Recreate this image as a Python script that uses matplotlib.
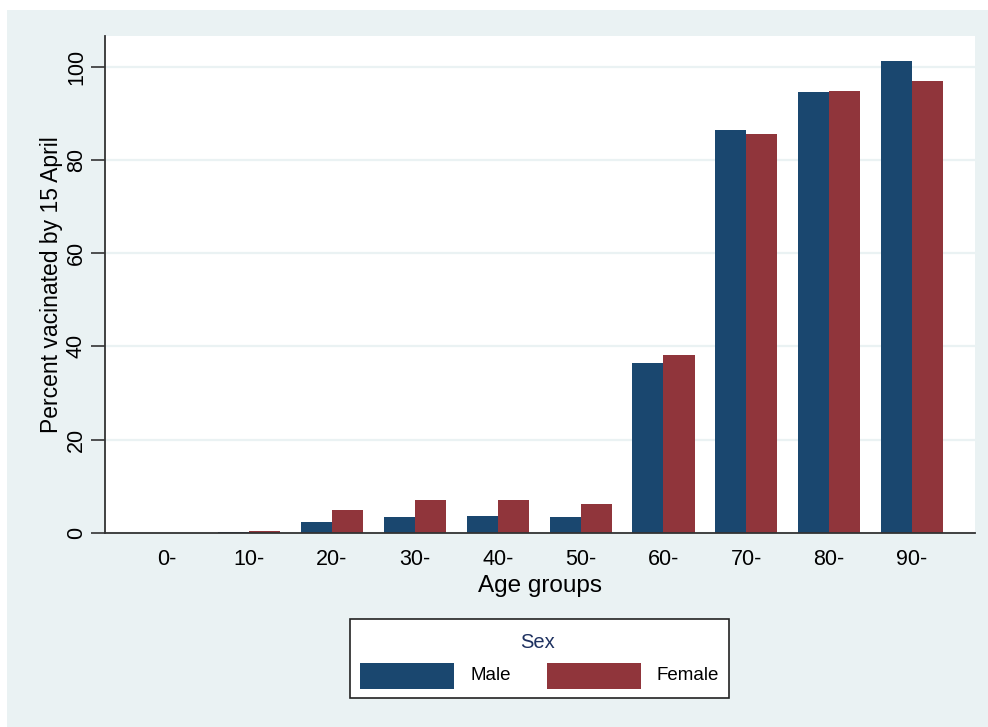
import matplotlib
matplotlib.use("Agg")
import matplotlib.pyplot as plt
import numpy as np
from matplotlib.patches import Rectangle

categories = ["0-", "10-", "20-", "30-", "40-", "50-", "60-", "70-", "80-", "90-"]
male = [0.0, 0.1, 2.3, 3.4, 3.6, 3.4, 36.4, 86.5, 94.6, 101.3]
female = [0.0, 0.35, 4.9, 7.0, 7.0, 6.1, 38.1, 85.5, 94.8, 97.0]
yticks = [0, 20, 40, 60, 80, 100]

MALE_C = "#1a476f"
FEMALE_C = "#90353b"
BG = "#eaf2f3"

plt.rcParams['font.family'] = ['Liberation Sans', 'DejaVu Sans']

W, H = 988, 727
fig = plt.figure(figsize=(W / 100, H / 100), dpi=100, facecolor="white")
fig.patches.append(Rectangle((7 / W, 0), 1 - 7 / W, 1 - 10 / H, transform=fig.transFigure,
                             facecolor=BG, edgecolor="none", zorder=-10))

ax = fig.add_axes([105 / W, 1 - 532.7 / H, (975 - 105) / W, (532.7 - 36) / H])
ax.set_facecolor("white")

x = np.arange(len(categories))
bw = 0.375
ax.bar(x - bw / 2, male, width=bw, color=MALE_C, label="Male", zorder=3)
ax.bar(x + bw / 2, female, width=bw, color=FEMALE_C, label="Female", zorder=3)

ax.set_xlim(-0.74, 9.76)
ax.set_ylim(0, 106.6)
ax.set_yticks(yticks)
ax.set_yticklabels([str(v) for v in yticks], rotation=90, va="center", fontsize=15.5)
ax.set_xticks(x)
ax.set_xticklabels(categories, fontsize=15.5)
ax.tick_params(axis="x", length=0, pad=12)
ax.tick_params(axis="y", length=10, width=1.2, color="#333333", pad=3)
ax.yaxis.grid(True, color=BG, linewidth=1.6, zorder=0)
ax.set_axisbelow(True)

for s in ["top", "right"]:
    ax.spines[s].set_visible(False)
for s in ["left", "bottom"]:
    ax.spines[s].set_color("#333333")
    ax.spines[s].set_linewidth(1.3)
    ax.spines[s].set_zorder(4)

ax.set_xlabel("Age groups", fontsize=17.5, labelpad=3)
ax.set_ylabel("Percent vacinated by 15 April", fontsize=16.5, labelpad=2)

# legend box
lx0, ly0, lx1, ly1 = 350, 619, 729, 698
fig.patches.append(Rectangle((lx0 / W, 1 - ly1 / H), (lx1 - lx0) / W, (ly1 - ly0) / H,
                             transform=fig.transFigure, facecolor="white",
                             edgecolor="#222222", linewidth=1.2, zorder=5))
fig.text(538 / W, 1 - 643 / H, "Sex", ha="center", va="center", fontsize=14.5,
         color="#1e3160", zorder=6)
for (px, tx, lab, col) in [(360, 470, "Male", MALE_C), (547, 657, "Female", FEMALE_C)]:
    fig.patches.append(Rectangle((px / W, 1 - 689 / H), 94 / W, 26 / H,
                                 transform=fig.transFigure, facecolor=col,
                                 edgecolor="none", zorder=6))
    fig.text(tx / W, 1 - 676 / H, lab, ha="left", va="center", fontsize=13.5,
             color="black", zorder=6)

fig.savefig("out.png", dpi=100, facecolor="white")
